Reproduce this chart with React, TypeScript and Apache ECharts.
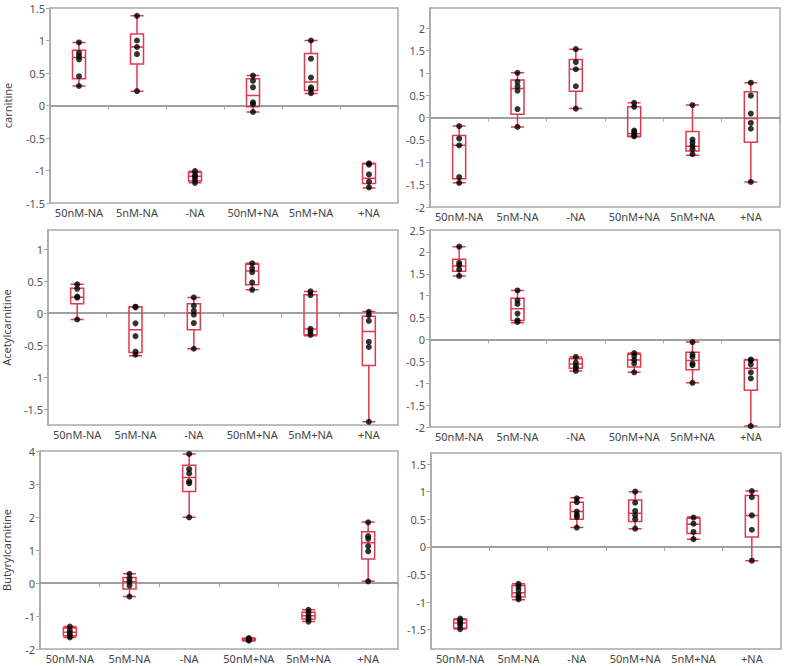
import React, { useEffect, useRef } from "react";
import * as echarts from "echarts";

const categories = ["50nM-NA", "5nM-NA", "-NA", "50nM+NA", "5nM+NA", "+NA"];

// box stats: [min, Q1, median, Q3, max]
const carnitineLeftBox = [
  [0.30, 0.41, 0.74, 0.85, 0.97],
  [0.22, 0.64, 0.90, 1.10, 1.38],
  [-1.19, -1.16, -1.09, -1.03, -1.01],
  [-0.10, -0.02, 0.155, 0.41, 0.46],
  [0.185, 0.23, 0.36, 0.80, 1.0],
  [-1.27, -1.20, -1.12, -0.90, -0.89],
];
const carnitineLeftPoints = [
  [0.97, 0.81, 0.76, 0.71, 0.45, 0.30],
  [1.38, 1.0, 0.9, 0.79, 0.22],
  [-1.01, -1.07, -1.10, -1.14, -1.19],
  [0.46, 0.38, 0.28, 0.05, 0.02, -0.10],
  [1.0, 0.72, 0.43, 0.28, 0.25, 0.19],
  [-0.89, -0.91, -1.06, -1.17, -1.26],
];

const carnitineRightBox = [
  [-1.46, -1.37, -0.62, -0.40, -0.19],
  [-0.21, 0.075, 0.65, 0.84, 1.0],
  [0.20, 0.59, 1.08, 1.30, 1.53],
  [-0.43, -0.42, -0.36, 0.24, 0.33],
  [-0.84, -0.75, -0.64, -0.31, 0.28],
  [-1.44, -0.55, -0.02, 0.575, 0.78],
];
const carnitineRightPoints = [
  [-0.19, -0.47, -0.62, -1.33, -1.46],
  [1.0, 0.80, 0.70, 0.60, 0.19, -0.21],
  [1.53, 1.24, 1.08, 0.70, 0.20],
  [0.33, 0.24, -0.29, -0.33, -0.40, -0.42],
  [0.28, -0.49, -0.56, -0.64, -0.71, -0.82],
  [0.78, 0.49, 0.09, -0.12, -0.25, -1.44],
];

const acetylLeftBox = [
  [-0.10, 0.146, 0.25, 0.39, 0.45],
  [-0.667, -0.615, -0.26, 0.094, 0.10],
  [-0.557, -0.26, 0.0, 0.146, 0.245],
  [0.365, 0.443, 0.66, 0.766, 0.78],
  [-0.354, -0.34, -0.25, 0.286, 0.34],
  [-1.70, -0.82, -0.286, -0.05, 0.026],
];
const acetylLeftPoints = [
  [0.45, 0.38, 0.26, 0.24, -0.10],
  [0.10, 0.09, -0.16, -0.36, -0.60, -0.65],
  [0.245, 0.115, 0.036, -0.026, -0.156, -0.557],
  [0.78, 0.70, 0.64, 0.48, 0.365],
  [0.34, 0.28, -0.245, -0.29, -0.34],
  [0.02, -0.03, -0.12, -0.45, -0.53, -1.70],
];

const acetylRightBox = [
  [1.45, 1.56, 1.68, 1.83, 2.12],
  [0.38, 0.435, 0.70, 0.94, 1.12],
  [-0.72, -0.66, -0.56, -0.44, -0.40],
  [-0.75, -0.63, -0.47, -0.34, -0.31],
  [-0.99, -0.69, -0.48, -0.29, -0.06],
  [-1.98, -1.16, -0.66, -0.47, -0.46],
];
const acetylRightPoints = [
  [2.12, 1.75, 1.70, 1.60, 1.45],
  [1.12, 0.89, 0.81, 0.59, 0.435, 0.40],
  [-0.40, -0.53, -0.61, -0.66, -0.72],
  [-0.31, -0.38, -0.47, -0.55, -0.75],
  [-0.06, -0.34, -0.40, -0.55, -0.59, -0.99],
  [-0.46, -0.48, -0.57, -0.75, -0.89, -1.98],
];

const butyrylLeftBox = [
  [-1.65, -1.60, -1.49, -1.36, -1.32],
  [-0.41, -0.18, 0.04, 0.17, 0.28],
  [1.99, 2.77, 3.20, 3.57, 3.91],
  [-1.76, -1.73, -1.71, -1.68, -1.67],
  [-1.17, -1.09, -0.99, -0.89, -0.81],
  [0.05, 0.73, 1.22, 1.55, 1.85],
];
const butyrylLeftPoints = [
  [-1.32, -1.44, -1.52, -1.60, -1.65],
  [0.28, 0.14, 0.04, -0.08, -0.41],
  [3.91, 3.45, 3.32, 3.08, 3.02, 1.99],
  [-1.67, -1.69, -1.71, -1.72, -1.75],
  [-0.81, -0.91, -1.01, -1.09, -1.17],
  [1.84, 1.42, 1.34, 1.12, 0.96, 0.05],
];

const butyrylRightBox = [
  [-1.49, -1.47, -1.38, -1.32, -1.30],
  [-0.96, -0.91, -0.83, -0.70, -0.67],
  [0.35, 0.50, 0.64, 0.81, 0.89],
  [0.33, 0.46, 0.61, 0.85, 1.0],
  [0.14, 0.24, 0.41, 0.52, 0.54],
  [-0.25, 0.18, 0.57, 0.93, 1.01],
];
const butyrylRightPoints = [
  [-1.30, -1.34, -1.38, -1.42, -1.49],
  [-0.67, -0.72, -0.78, -0.86, -0.91, -0.95],
  [0.88, 0.81, 0.64, 0.58, 0.54, 0.35],
  [1.0, 0.80, 0.65, 0.57, 0.50, 0.33],
  [0.53, 0.42, 0.27, 0.14],
  [1.01, 0.90, 0.57, 0.31, -0.25],
];

const ticksP1 = [-1.5, -1, -0.5, 0, 0.5, 1, 1.5];
const ticksP2 = [-2, -1.5, -1, -0.5, 0, 0.5, 1, 1.5, 2];
const ticksP3 = [-1.5, -1, -0.5, 0, 0.5, 1];
const ticksP4 = [-2, -1.5, -1, -0.5, 0, 0.5, 1, 1.5, 2, 2.5];
const ticksP5 = [-2, -1, 0, 1, 2, 3, 4];
const ticksP6 = [-1.5, -1, -0.5, 0, 0.5, 1, 1.5];

const panels = [
  { name: "carnitine", box: carnitineLeftBox, points: carnitineLeftPoints, ticks: ticksP1, min: -1.5, max: 1.5, grid: { left: 50, top: 8, width: 348, height: 195 }, nameGap: 37 },
  { name: "", box: carnitineRightBox, points: carnitineRightPoints, ticks: ticksP2, min: -2, max: 2.45, grid: { left: 430, top: 8, width: 350, height: 199 }, nameGap: 30 },
  { name: "Acetylcarnitine", box: acetylLeftBox, points: acetylLeftPoints, ticks: ticksP3, min: -1.75, max: 1.3, grid: { left: 47, top: 230, width: 351, height: 195 }, nameGap: 36 },
  { name: "", box: acetylRightBox, points: acetylRightPoints, ticks: ticksP4, min: -2, max: 2.5, grid: { left: 430, top: 230, width: 350, height: 197 }, nameGap: 30 },
  { name: "Butyrylcarnitine", box: butyrylLeftBox, points: butyrylLeftPoints, ticks: ticksP5, min: -2, max: 4, grid: { left: 40, top: 451, width: 358, height: 198 }, nameGap: 28 },
  { name: "", box: butyrylRightBox, points: butyrylRightPoints, ticks: ticksP6, min: -1.85, max: 1.7, grid: { left: 431, top: 453, width: 350, height: 196 }, nameGap: 30 },
];

const RED = "#dd3b4e";
const FONT = "'Noto Sans', 'Open Sans', sans-serif";

export default function App() {
  const ref = useRef<HTMLDivElement>(null);
  useEffect(() => {
    if (!ref.current) return;
    const chart = echarts.init(ref.current, undefined, { renderer: "svg" });
    const grids: any[] = [];
    const xAxes: any[] = [];
    const yAxes: any[] = [];
    const series: any[] = [];
    panels.forEach((p, i) => {
      grids.push({ ...p.grid, show: true, borderColor: "#a9a9a9", borderWidth: 1.5, backgroundColor: "#fff" });
      xAxes.push({
        type: "category",
        gridIndex: i,
        data: categories,
        boundaryGap: true,
        axisLine: { show: true, lineStyle: { color: "#a9a9a9", width: 1.5 } },
        axisTick: { show: true, length: 4, lineStyle: { color: "#a9a9a9" } },
        axisLabel: { color: "#444", fontSize: 11, fontFamily: FONT, margin: 4, interval: 0 },
        splitLine: { show: false },
      });
      yAxes.push({
        type: "value",
        gridIndex: i,
        min: p.min,
        max: p.max,
        name: p.name,
        nameLocation: "middle",
        nameRotate: 90,
        nameGap: p.nameGap,
        nameTextStyle: { color: "#444", fontSize: 11, fontFamily: FONT },
        axisLine: { show: true, lineStyle: { color: "#a9a9a9", width: 1.5 } },
        axisTick: { show: true, length: 4, lineStyle: { color: "#a9a9a9" }, customValues: p.ticks },
        axisLabel: { color: "#555", fontSize: 11, fontFamily: FONT, margin: 5, customValues: p.ticks },
        splitLine: { show: false },
      });
      series.push({
        type: "boxplot",
        xAxisIndex: i,
        yAxisIndex: i,
        data: p.box,
        boxWidth: [13, 13],
        itemStyle: { color: "rgba(255,255,255,0)", borderColor: RED, borderWidth: 1.5 },
        silent: true,
        z: 3,
      });
      const pts: number[][] = [];
      p.points.forEach((arr, ci) => arr.forEach((v) => pts.push([ci, v])));
      series.push({
        type: "scatter",
        xAxisIndex: i,
        yAxisIndex: i,
        data: pts,
        symbol: "circle",
        symbolSize: 6,
        itemStyle: { color: "#000" },
        silent: true,
        z: 4,
        markLine: {
          silent: true,
          symbol: ["none", "none"],
          label: { show: false },
          lineStyle: { color: "#a0a0a0", width: 2, type: "solid" },
          data: [{ yAxis: 0 }],
          z: 2,
        },
      });
    });
    chart.setOption({
      animation: false,
      backgroundColor: "#fff",
      grid: grids,
      xAxis: xAxes,
      yAxis: yAxes,
      series,
    });
    return () => chart.dispose();
  }, []);
  return <div ref={ref} style={{ position: "fixed", left: 0, top: 0, width: 787, height: 666 }} />;
}
